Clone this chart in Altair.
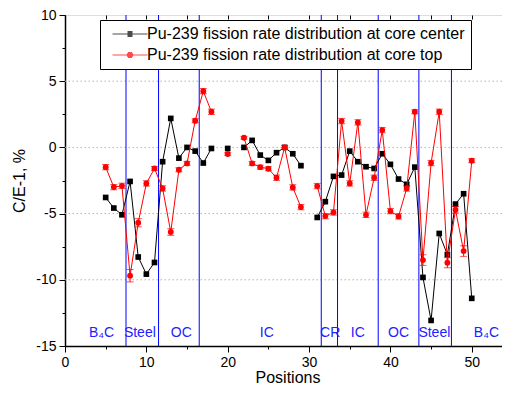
import altair as alt
import pandas as pd

positions = [5, 6, 7, 8, 9, 10, 11, 12, 13, 14, 15, 16, 17, 18,
             20,
             22, 23, 24, 25, 26, 27, 28, 29,
             31, 32, 33, 34, 35, 36, 37, 38, 39, 40, 41, 42, 43, 44, 45, 46, 47, 48, 49, 50]
center = [-3.78, -4.58, -5.09, -2.57, -8.28, -9.57, -8.69, -1.08, 2.19, -0.81, 0.0, -0.28, -1.18, -0.08,
          -0.08,
          0.0, 0.53, -0.58, -0.98, -0.40, 0.0, -0.48, -1.38,
          -5.29, -4.10, -2.19, -2.09, -0.28, -1.08, -1.46, -1.59, -0.48, -1.28, -2.39, -2.79, -1.49,
          -9.82, -13.07, -6.50, -8.10, -4.28, -3.50, -11.40]
top = [-1.49, -3.00, -2.90, -9.69, -5.69, -2.72, -1.59, -3.10, -6.39, -1.69, -1.21, 2.01, 4.25, 2.69,
       -0.50,
       0.73, -1.21, -1.49, -1.61, -2.29, 0.0, -3.02, -4.51,
       -2.92, -5.19, -4.91, 1.99, -2.72, 1.89, -5.09, -2.29, 1.31, -4.81, -5.21, -3.10, 2.69,
       -8.51, -1.18, 2.69, -8.71, -4.71, -7.83, -1.00]
top_err = [0.2, 0.2, 0.2, 0.47, 0.31, 0.2, 0.15, 0.2, 0.25, 0.15, 0.15, 0.15, 0.2, 0.2,
           0.1,
           0.1, 0.15, 0.15, 0.15, 0.2, 0.15, 0.2, 0.2,
           0.2, 0.2, 0.2, 0.2, 0.2, 0.2, 0.2, 0.2, 0.2, 0.2, 0.2, 0.2, 0.15,
           0.4, 0.2, 0.2, 0.38, 0.25, 0.4, 0.15]

boundaries = [7.5, 11.5, 16.5, 31.5, 33.5, 38.5, 43.5, 47.5]
region_names = ["B\u2084C", "Steel", "OC", "IC", "CR", "IC", "OC", "Steel", "B\u2084C"]
region_x = [4.5, 9.2, 14.3, 24.8, 32.6, 36.0, 41.0, 45.4, 51.8]
region_y = -14.0
grid_values = [-10, -5, 0, 5]
series_names = ["Pu-239 fission rate distribution at core center",
                "Pu-239 fission rate distribution at core top"]
series_colors = ["#000000", "#ff0000"]

x_ticks = [0, 5, 10, 15, 20, 25, 30, 35, 40, 45, 50]
y_ticks = [-15, -12.5, -10, -7.5, -5, -2.5, 0, 2.5, 5, 7.5, 10]


def segment(p):
    if p <= 18:
        return 1
    if p <= 20:
        return 2
    if p <= 29:
        return 3
    return 4


df = pd.DataFrame({
    "pos": positions,
    "center": center,
    "top": top,
    "err": top_err,
    "seg": [segment(p) for p in positions],
})
df["lo"] = df["top"] - df["err"]
df["hi"] = df["top"] + df["err"]

FONT = "Liberation Sans"
xs = alt.Scale(domain=[0, 54.7], nice=False, zero=False)
ys = alt.Scale(domain=[-15, 10], nice=False, zero=False)

x_bottom = alt.Axis(values=x_ticks, orient="bottom", grid=False,
                    labelExpr="datum.value % 10 === 0 ? '' + datum.value : ''",
                    tickSize={"condition": {"test": "datum.value % 10 === 0", "value": 6}, "value": 3},
                    title="Positions", titleFontSize=16, titleFontWeight="normal",
                    titleBaseline="alphabetic", titleY=36,
                    labelFontSize=14, labelPadding=3, labelFlush=False,
                    domainWidth=1.5, domainColor="black", tickColor="black", labelColor="black",
                    titleFont=FONT, labelFont=FONT)
y_left = alt.Axis(values=y_ticks, orient="left", grid=False,
                  labelExpr="datum.value % 5 === 0 ? '' + datum.value : ''",
                  tickSize={"condition": {"test": "datum.value % 5 === 0", "value": 6}, "value": 3},
                  title="C/E-1, %", titleFontSize=16, titleFontWeight="normal", titlePadding=8,
                  labelFontSize=14, labelPadding=3, labelFlush=False,
                  domainWidth=1.5, domainColor="black", tickColor="black", labelColor="black",
                  titleFont=FONT, labelFont=FONT)
x_top = alt.Axis(values=x_ticks, orient="top", grid=False, labels=False, domain=False,
                 tickSize=4, offset=-4, title=None, tickColor="black")
y_right = alt.Axis(values=y_ticks, orient="right", grid=False, labels=False, domain=False,
                   tickSize=4, offset=-4, title=None, tickColor="black")

base = alt.Chart(df)

grid = alt.Chart(pd.DataFrame({"g": grid_values})).mark_rule(
    color="#b8b888", strokeDash=[1.5, 2.5], strokeWidth=1
).encode(y=alt.Y("g:Q", scale=ys, axis=None))

bounds = alt.Chart(pd.DataFrame({"b": boundaries})).mark_rule(
    color="#0000ff", strokeWidth=1
).encode(x=alt.X("b:Q", scale=xs, axis=None))

regions = alt.Chart(pd.DataFrame({"name": region_names, "rx": region_x, "ry": [region_y] * len(region_x)})).mark_text(
    color="#2222ff", font=FONT, fontSize=14, baseline="middle", align="center"
).encode(x=alt.X("rx:Q", scale=xs, axis=None), y=alt.Y("ry:Q", scale=ys, axis=None), text="name:N")

center_line = base.mark_line(color="#000000", strokeWidth=1).encode(
    x=alt.X("pos:Q", scale=xs, axis=x_bottom),
    y=alt.Y("center:Q", scale=ys, axis=y_left),
    detail="seg:N",
)
center_pts = base.mark_square(color="#000000", size=32, opacity=1).encode(
    x=alt.X("pos:Q", scale=xs, axis=x_top),
    y=alt.Y("center:Q", scale=ys, axis=y_right),
)

err_rule = base.mark_rule(color="#ff0000", strokeWidth=1).encode(
    x=alt.X("pos:Q", scale=xs, axis=None),
    y=alt.Y("lo:Q", scale=ys, axis=None),
    y2="hi:Q",
)
cap_lo = base.mark_tick(color="#ff0000", orient="horizontal", size=7, thickness=1).encode(
    x=alt.X("pos:Q", scale=xs, axis=None), y=alt.Y("lo:Q", scale=ys, axis=None))
cap_hi = base.mark_tick(color="#ff0000", orient="horizontal", size=7, thickness=1).encode(
    x=alt.X("pos:Q", scale=xs, axis=None), y=alt.Y("hi:Q", scale=ys, axis=None))

top_line = base.mark_line(color="#ff0000", strokeWidth=1).encode(
    x=alt.X("pos:Q", scale=xs, axis=None),
    y=alt.Y("top:Q", scale=ys, axis=None),
    detail="seg:N",
)
top_pts = base.mark_circle(color="#ff0000", size=34, opacity=1).encode(
    x=alt.X("pos:Q", scale=xs, axis=None),
    y=alt.Y("top:Q", scale=ys, axis=None),
)

# legend symbols (unit = 3 px): a 35 px line with the series marker drawn from thin strokes
U = 3.0
x0, x1, xm = -1.5 / U, 33.5 / U, 16.0 / U
rows = (-2.5, -1.5, -0.5, 0.5, 1.5, 2.5)
sq = "".join(f"M{xm - 2.5 / U:.3f},{r / U:.3f}H{xm + 2.5 / U:.3f}" for r in rows)
ci = "".join(
    f"M{xm - ((3.2 ** 2 - r ** 2) ** 0.5) / U:.3f},{r / U:.3f}H{xm + ((3.2 ** 2 - r ** 2) ** 0.5) / U:.3f}"
    for r in rows)
shape_center = f"M{x0:.3f},0H{x1:.3f}" + sq
shape_top = f"M{x0:.3f},0H{x1:.3f}" + ci

legend_layer = alt.Chart(pd.DataFrame({"series": series_names})).transform_filter("false").mark_point(
    filled=False, strokeWidth=1
).encode(
    color=alt.Color("series:N", scale=alt.Scale(domain=series_names, range=series_colors),
                    legend=alt.Legend(title=None, orient="none", legendX=35, legendY=5,
                                      strokeColor="black", fillColor="white", padding=6,
                                      labelFont=FONT, labelFontSize=16, labelColor="black",
                                      labelLimit=400, symbolSize=36, symbolStrokeWidth=1,
                                      labelOffset=25, rowPadding=5, cornerRadius=0)),
    shape=alt.Shape("series:N", scale=alt.Scale(domain=series_names, range=[shape_center, shape_top]),
                    legend=alt.Legend(title=None, orient="none", legendX=35, legendY=5)),
)

chart = alt.layer(
    grid, bounds, regions, center_line, center_pts, err_rule, cap_lo, cap_hi, top_line, top_pts, legend_layer
).resolve_axis(x="independent", y="independent").properties(
    width=445, height=331,
    autosize=alt.AutoSizeParams(type="none"),
    padding={"left": 57, "top": 7, "right": -8, "bottom": 38},
).configure_view(stroke="black", strokeWidth=1).configure(background="white")

chart.save("out.html", embed_options={"renderer": "svg", "actions": False})
